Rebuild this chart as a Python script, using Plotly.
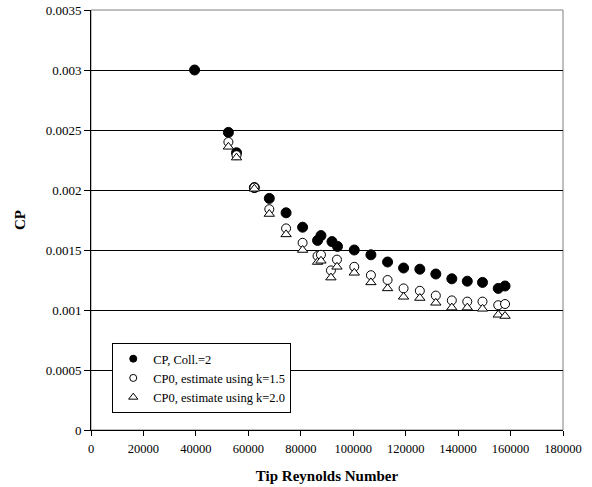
import plotly.graph_objects as go

# Data
re_cp = [39500, 52400, 55500, 62300, 68000, 74400, 80700, 86400, 87700, 91900, 94000,
         100400, 106750, 113100, 119200, 125400, 131500, 137600, 143500, 149300, 155300, 157900]
cp_coll2 = [0.00300, 0.00248, 0.00231, 0.00202, 0.00193, 0.00181, 0.00169, 0.00158, 0.00162,
            0.00157, 0.00153, 0.00150, 0.00146, 0.00140, 0.00135, 0.00134, 0.00130, 0.00126,
            0.00124, 0.00123, 0.00118, 0.00120]

re_cp0 = [52400, 55500, 62300, 68000, 74400, 80700, 86400, 87700, 91500, 93800,
          100400, 106750, 113100, 119200, 125400, 131500, 137600, 143500, 149300, 155300, 157900]
cp0_k15 = [0.00240, 0.00229, 0.00202, 0.00184, 0.00168, 0.00156, 0.00145, 0.00146, 0.00133,
           0.00142, 0.00136, 0.00129, 0.00125, 0.00118, 0.00116, 0.00112, 0.00108, 0.00107,
           0.00107, 0.00104, 0.00105]
cp0_k20 = [0.00236, 0.00227, 0.00201, 0.00180, 0.00163, 0.00150, 0.00140, 0.00141, 0.00127,
           0.00136, 0.00131, 0.00123, 0.00118, 0.00111, 0.00110, 0.00106, 0.00102, 0.00102,
           0.00101, 0.00096, 0.00095]

x_ticks = [0, 20000, 40000, 60000, 80000, 100000, 120000, 140000, 160000, 180000]
y_ticks = [0, 0.0005, 0.001, 0.0015, 0.002, 0.0025, 0.003, 0.0035]
y_tick_text = ["0", "0.0005", "0.001", "0.0015", "0.002", "0.0025", "0.003", "0.0035"]

series_names = ["CP, Coll.=2", "CP0, estimate using k=1.5", "CP0, estimate using k=2.0"]

FONT = "Liberation Serif, Times New Roman, serif"

styles = [
    dict(symbol="circle", size=10, color="black", line=dict(color="black", width=1)),
    dict(symbol="circle", size=9, color="white", line=dict(color="black", width=1)),
    dict(symbol="triangle-up", size=9, color="white", line=dict(color="black", width=1)),
]
legend_styles = [
    dict(symbol="circle", size=7, color="black", line=dict(color="black", width=1)),
    dict(symbol="circle", size=7, color="white", line=dict(color="black", width=1)),
    dict(symbol="triangle-up", size=8, color="white", line=dict(color="black", width=1)),
]

fig = go.Figure()
for xs, ys, name, st in zip([re_cp, re_cp0, re_cp0], [cp_coll2, cp0_k15, cp0_k20], series_names, styles):
    fig.add_trace(go.Scatter(x=xs, y=ys, mode="markers", name=name, marker=st,
                             showlegend=False, legendgroup=name))
for name, st in zip(series_names, legend_styles):
    fig.add_trace(go.Scatter(x=[None], y=[None], mode="markers", name=name, marker=st,
                             showlegend=True, legendgroup=name))

fig.update_layout(
    width=592, height=487,
    margin=dict(l=91, r=29, t=10, b=57, autoexpand=False),
    paper_bgcolor="white", plot_bgcolor="white",
    font=dict(family=FONT, size=13, color="black"),
    showlegend=True,
    legend=dict(
        x=0.045, y=0.207, xanchor="left", yanchor="top",
        bgcolor="white", bordercolor="black", borderwidth=1,
        font=dict(family=FONT, size=12.5, color="black"),
        tracegroupgap=0,
    ),
    xaxis=dict(
        range=[0, 180000], tickvals=x_ticks, ticktext=[str(v) for v in x_ticks],
        showgrid=False, zeroline=False, automargin=False,
        showline=True, linecolor="black", linewidth=1, mirror=False,
        ticks="outside", ticklen=5, tickcolor="black", ticklabelstandoff=2,
        tickfont=dict(family=FONT, size=12.5, color="black"),
        title=dict(text="<b>Tip Reynolds Number</b>", font=dict(family=FONT, size=15, color="black"), standoff=15),
    ),
    yaxis=dict(
        range=[0, 0.0035], tickvals=y_ticks, ticktext=y_tick_text,
        showgrid=True, gridcolor="black", gridwidth=1, zeroline=False, automargin=False,
        showline=True, linecolor="black", linewidth=1,
        ticks="outside", ticklen=6, tickcolor="black",
        tickfont=dict(family=FONT, size=13, color="black"),
        title=dict(text="<b>CP</b>", font=dict(family=FONT, size=15, color="black"), standoff=16),
    ),
    shapes=[dict(type="rect", xref="paper", yref="paper", x0=0, y0=0, x1=1, y1=1,
                 line=dict(color="#808080", width=1), layer="below")],
)

fig.write_html("out.html", config={"displayModeBar": False},
               post_script="document.body.style.margin='0';")
